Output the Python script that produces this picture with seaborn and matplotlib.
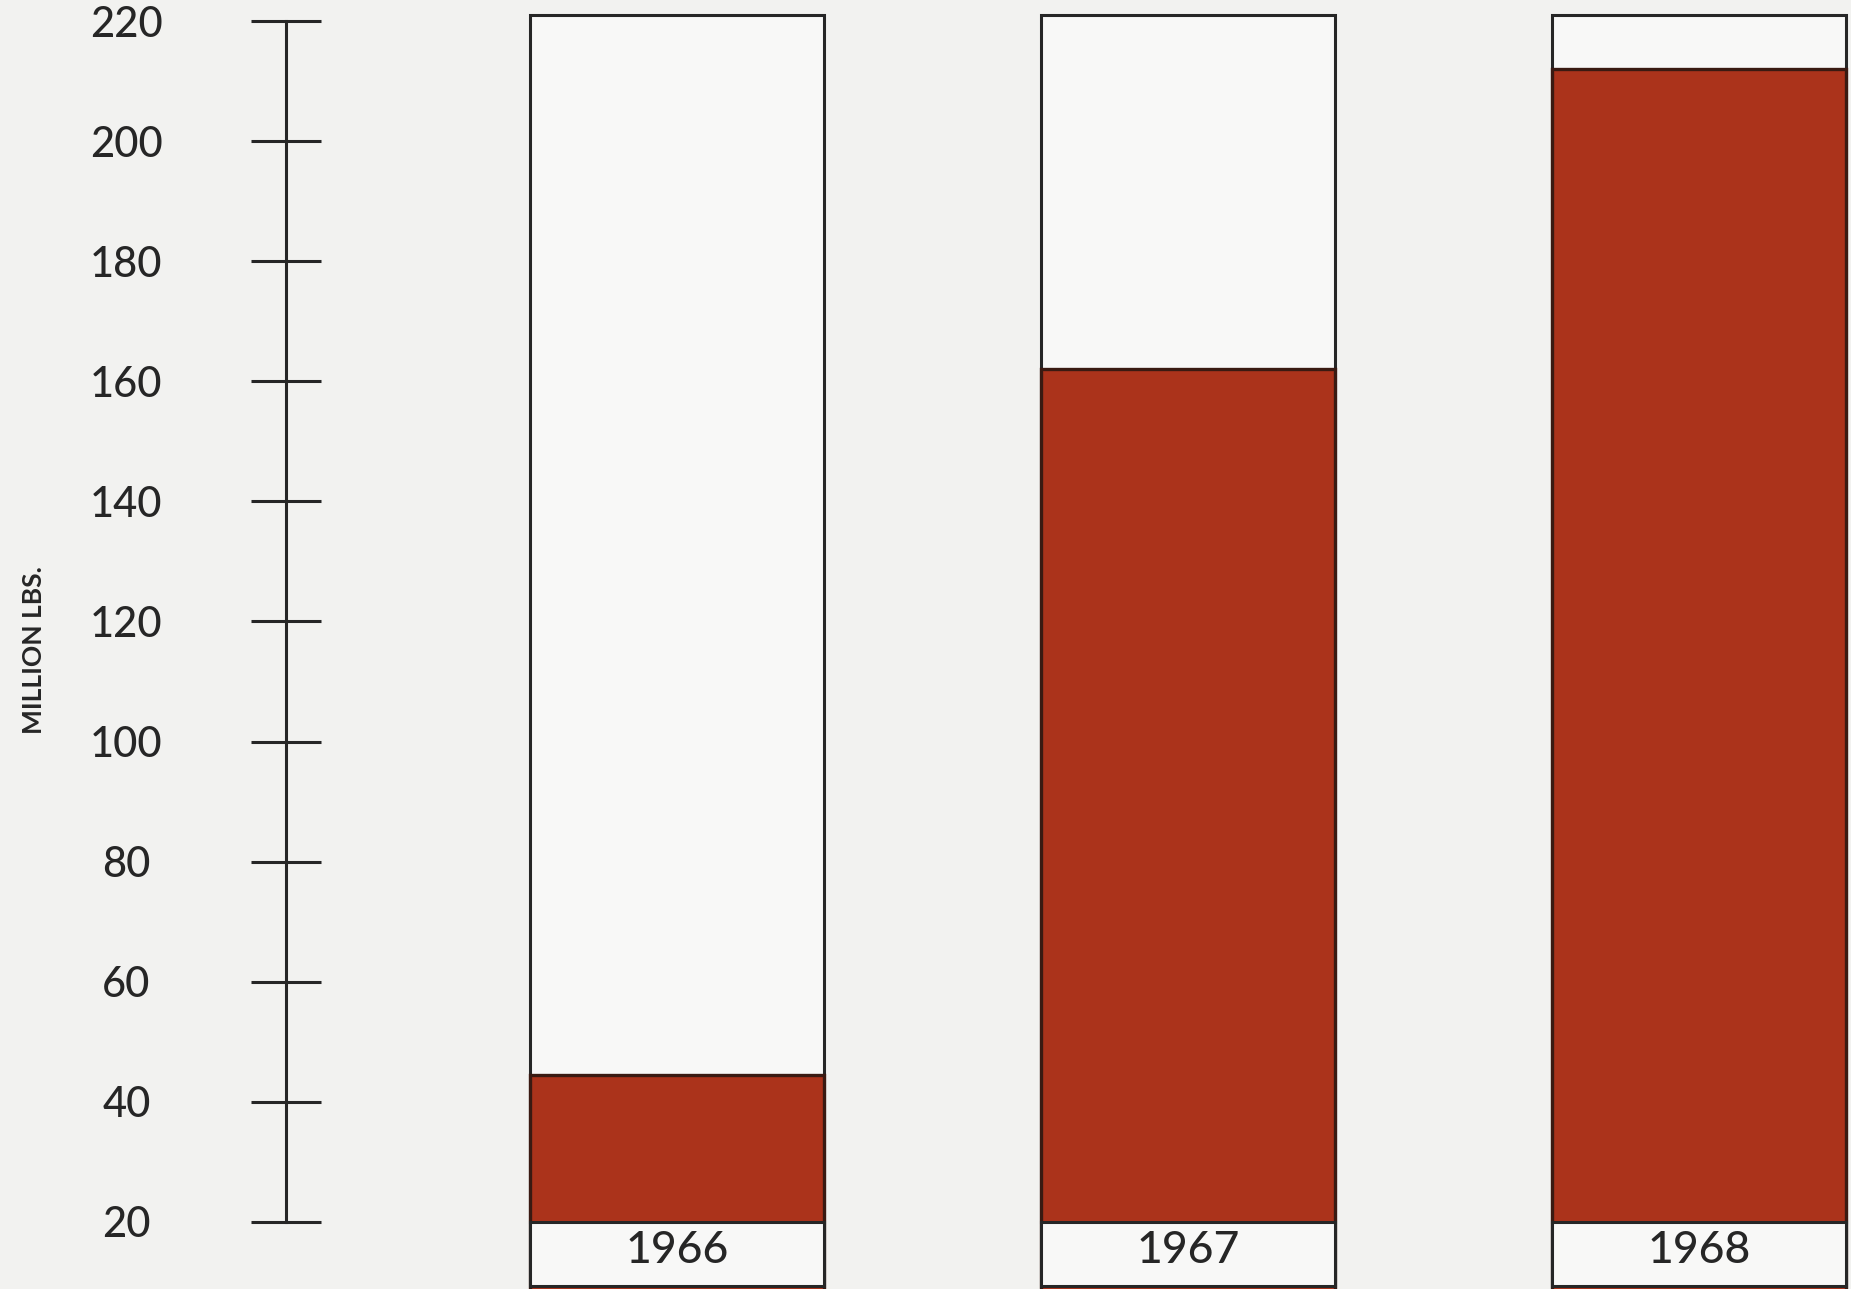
import matplotlib
matplotlib.use("Agg")
import matplotlib.pyplot as plt
from matplotlib.patches import Rectangle
import seaborn as sns

# data (million lbs.)
years = ["1966", "1967", "1968"]
values = [44.5, 162, 212]
y_ticks = [20, 40, 60, 80, 100, 120, 140, 160, 180, 200, 220]

red = "#ab331b"
ink = "#262626"
paper = "#f2f2f0"

sns.set_style("white")
plt.rcParams["font.family"] = ["Lato", "DejaVu Sans"]

fig = plt.figure(figsize=(18.51, 12.89), dpi=100, facecolor=paper)
ax = fig.add_axes([0, 0, 1, 1])
ax.set_facecolor(paper)

bar_w = 0.575
box_top = 221
box_bottom = 9.3
base = 20

# column outlines behind the bars
for i in range(len(years)):
    ax.add_patch(Rectangle((i - bar_w / 2, base), bar_w, box_top - base,
                           facecolor="#f8f8f7", edgecolor=ink, lw=2.2, zorder=1))

sns.barplot(x=years, y=values, color=red, saturation=1, width=bar_w,
            edgecolor="#3a1a12", linewidth=2.4, ax=ax, zorder=2)

# year label boxes below the base line
for i, yr in enumerate(years):
    ax.add_patch(Rectangle((i - bar_w / 2, box_bottom), bar_w, base - box_bottom,
                           facecolor="#f8f8f7", edgecolor=ink, lw=2.2, zorder=3))
    ax.text(i, 15.2, yr, ha="center", va="center", fontsize=32,
            fontweight="medium", color=ink, zorder=4)

ax.set_xlim(-1.325, 2.298)
ax.set_ylim(8.83, 223.5)

# hand-drawn style scale
for s in ["top", "right", "bottom"]:
    ax.spines[s].set_visible(False)
ax.spines["left"].set_position(("data", -0.765))
ax.spines["left"].set_bounds(20, 220)
ax.spines["left"].set_linewidth(2.2)
ax.spines["left"].set_color(ink)
ax.set_yticks(y_ticks)
ax.set_yticklabels([str(t) for t in y_ticks], ha="center", fontweight="medium")
ax.tick_params(axis="y", direction="inout", length=50, width=2.2, color=ink,
               labelsize=30, labelcolor=ink, pad=90, left=True)
ax.set_xticks([])
ax.set_xlabel("")
ax.set_ylabel("MILLION LBS.", fontsize=19, color=ink, fontweight="bold")
ax.yaxis.set_label_coords(0.025, 0.496, transform=fig.transFigure)

fig.savefig("out.png", dpi=100, facecolor=paper)
